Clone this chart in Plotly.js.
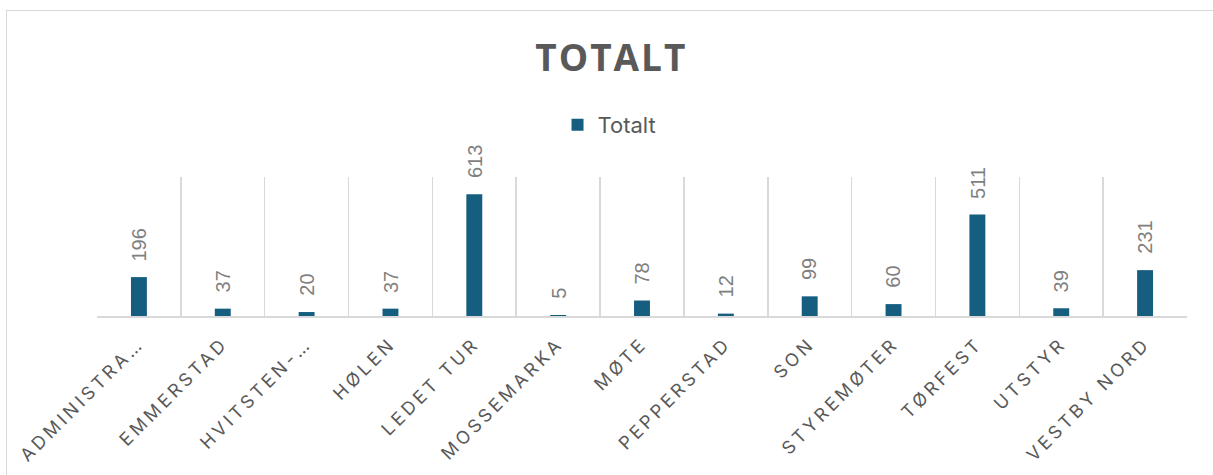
<!DOCTYPE html>
<html>
<head>
<meta charset="utf-8">
<script src="https://cdn.plot.ly/plotly-3.0.1.min.js"></script>
<style>
  html, body { margin: 0; padding: 0; width: 1213px; height: 475px; overflow: hidden; background: #fff; }
  #frame { position: absolute; left: 6px; top: 10px; width: 1400px; height: 700px; border: 1.5px solid #d9d9d9; box-sizing: border-box; }
  #chart { position: absolute; left: 0; top: 0; width: 1213px; height: 475px; }
  #chart .xtick text { letter-spacing: 3.5px; }
  #chart .gtitle { letter-spacing: 2px; }
</style>
</head>
<body>
<div id="frame"></div>
<div id="chart"></div>
<script>
const categories = ["ADMINISTRA…", "EMMERSTAD", "HVITSTEN-…", "HØLEN", "LEDET TUR", "MOSSEMARKA", "MØTE", "PEPPERSTAD", "SON", "STYREMØTER", "TØRFEST", "UTSTYR", "VESTBY NORD"];
const totals = [196, 37, 20, 37, 613, 5, 78, 12, 99, 60, 511, 39, 231];
const seriesName = "Totalt";
const chartTitle = "TOTALT";

const barColor = "#165E80";
const textGray = "#595959";

const trace = {
  type: "bar",
  name: seriesName,
  x: categories,
  y: totals,
  width: 0.19,
  marker: { color: barColor },
  hoverinfo: "x+y",
  showlegend: true
};

const annotations = categories.map((c, i) => ({
  x: c,
  y: totals[i],
  xref: "x",
  yref: "y",
  text: String(totals[i]),
  showarrow: false,
  textangle: -90,
  xanchor: "center",
  yanchor: "bottom",
  yshift: 14,
  font: { family: "Liberation Sans, Arial, sans-serif", size: 20, color: "#7f7f7f" }
}));

const layout = {
  width: 1213,
  height: 475,
  paper_bgcolor: "rgba(0,0,0,0)",
  plot_bgcolor: "rgba(0,0,0,0)",
  margin: { l: 97, r: 26, t: 177, b: 159 },
  title: {
    text: "<b>" + chartTitle + "</b>",
    x: 0.504,
    xanchor: "center",
    y: 0.878,
    yanchor: "middle",
    font: { family: "Open Sans, sans-serif", size: 37, color: textGray }
  },
  showlegend: true,
  legend: {
    orientation: "h",
    x: 0.4225,
    xanchor: "left",
    y: 1.374,
    yanchor: "middle",
    font: { family: "Inter, Open Sans, sans-serif", size: 22, color: textGray },
    bgcolor: "rgba(0,0,0,0)"
  },
  xaxis: {
    type: "category",
    range: [-0.5, categories.length - 0.5],
    tickson: "boundaries",
    showgrid: true,
    gridcolor: "#d9d9d9",
    gridwidth: 1.5,
    showline: true,
    linecolor: "#d9d9d9",
    linewidth: 2,
    ticks: "",
    tickangle: -45,
    ticklabelstandoff: 8,
    tickfont: { family: "Inter, Open Sans, sans-serif", size: 18, color: textGray },
    automargin: false,
    fixedrange: true
  },
  yaxis: {
    range: [0, 700],
    visible: false,
    showgrid: false,
    zeroline: false,
    fixedrange: true
  },
  annotations: annotations
};

Plotly.newPlot("chart", [trace], layout, { displayModeBar: false, staticPlot: true });
</script>
</body>
</html>
